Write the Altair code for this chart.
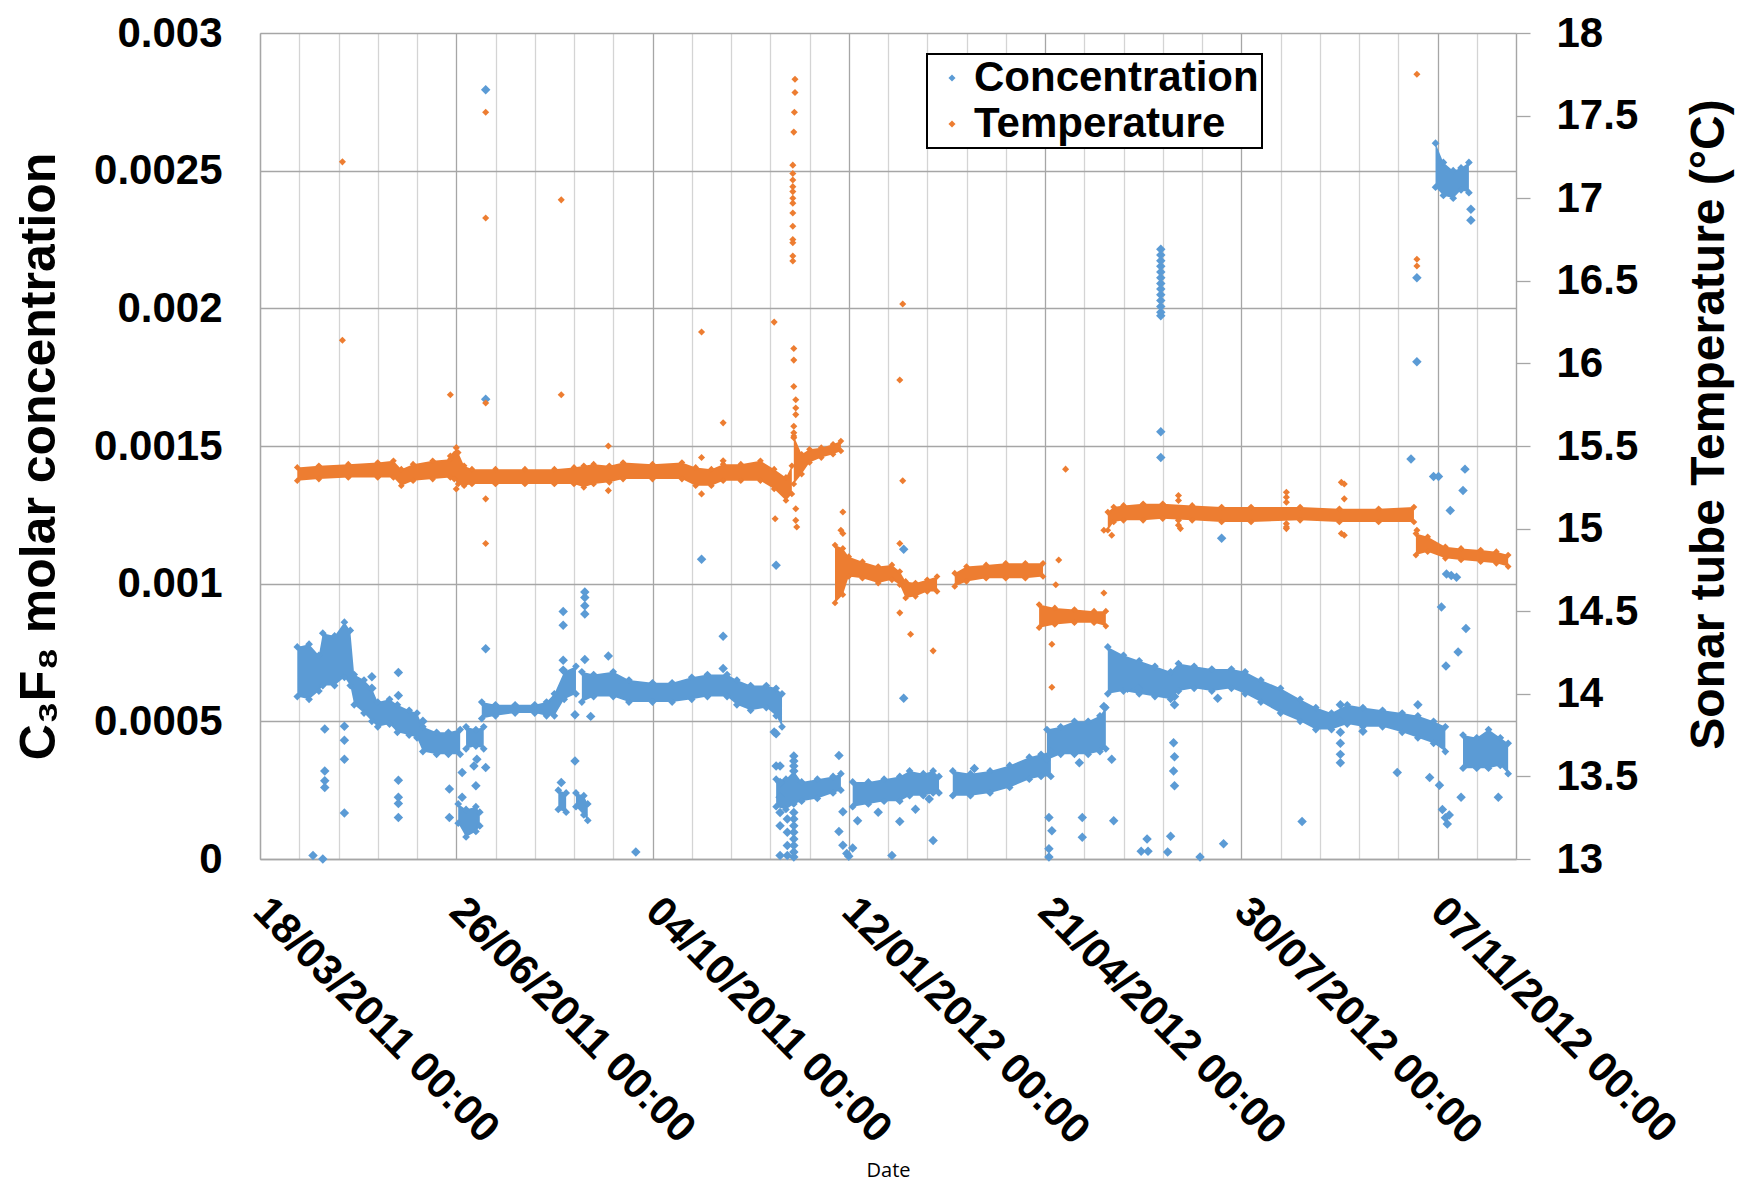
import altair as alt
import pandas as pd

START = pd.Timestamp("2011-03-18")
BLUE = "#5B9BD5"
ORANGE = "#ED7D31"
FONT = "Liberation Sans"

# ---------- Concentration dense bands: (day since 18/03/2011, low, high) in 1e-4 units
C_BAND_1 = [(19,5.9,7.7),(25,5.8,7.8),(30,6.1,7.4),(32,6.3,8.2),(38,6.3,8.1),(43,6.6,8.6),(46,6.3,8.3),
            (48,5.6,6.7),(53,5.3,6.5),(57,5.0,6.2),(60,4.8,5.7),(66,4.9,5.8),(70,4.6,5.6),(76,4.5,5.4),
            (80,4.4,5.3),(83,3.9,4.8),(90,3.8,4.6),(96,3.8,4.6),(102,3.8,4.7)]
C_BAND_2 = [(105,4.0,4.8),(110,4.1,4.7),(114,4.0,4.8)]
C_BAND_3 = [(113,5.1,5.7),(120,5.2,5.6),(130,5.3,5.6),(140,5.3,5.6),(146,5.2,5.7),(150,5.2,6.0),
            (155,5.8,6.8),(161,6.0,7.0)]
C_BAND_4 = [(164,5.7,6.8),(170,5.9,6.7),(180,5.9,6.8),(188,5.7,6.5),(200,5.7,6.4),(210,5.7,6.4),
            (220,5.8,6.6),(228,5.9,6.7),(238,5.9,6.7),(243,5.6,6.5),(250,5.4,6.3),(258,5.5,6.3),
            (263,5.2,6.2),(266,4.8,6.0)]
C_BAND_5 = [(263,1.9,2.9),(268,1.8,2.9),(272,2.0,3.2),(276,2.1,2.8),(284,2.2,2.9),(292,2.4,3.0),(296,2.5,3.1)]
C_BAND_6 = [(302,1.9,2.8),(310,2.0,2.8),(318,2.1,2.9),(326,2.1,3.0),(331,2.3,3.2),(338,2.3,3.1),
            (343,2.4,3.2),(346,2.4,3.0)]
C_BAND_7 = [(353,2.3,3.2),(362,2.3,3.1),(372,2.4,3.2),(382,2.6,3.4),(392,2.9,3.7),(398,3.0,3.8),(403,3.0,3.9)]
C_BAND_8 = [(401,3.6,4.7),(408,3.8,4.8),(415,3.8,5.0),(422,3.8,5.0),(428,3.9,5.2),(431,4.0,5.5)]
C_BAND_9 = [(432,6.0,7.7),(440,6.1,7.4),(448,6.0,7.2),(456,5.9,7.0),(464,5.8,6.8),(468,6.1,7.1),
            (476,6.2,7.0),(485,6.1,6.9),(495,6.2,6.9),(502,6.0,6.8),(510,5.7,6.5),(520,5.3,6.2),
            (530,5.0,5.8),(538,4.7,5.5),(546,4.7,5.3),(554,4.9,5.6),(562,4.8,5.5),(572,4.8,5.4),
            (582,4.6,5.3),(590,4.4,5.2),(598,4.2,5.0),(604,3.9,4.8)]
C_BAND_10 = [(613,3.3,4.5),(620,3.3,4.4),(626,3.3,4.7),(632,3.4,4.4),(636,3.1,4.2)]
C_BAND_HI = [(599,24.4,26.0),(603,24.1,25.3),(608,24.0,25.0),(612,24.3,25.1),(616,24.2,25.3)]
C_BAND_LO1 = [(101,1.3,2.0),(105,0.8,1.8),(110,1.0,1.9),(112,1.2,1.7)]
C_BAND_LO2 = [(152,1.8,2.5),(156,1.7,2.4)]
C_BAND_LO3 = [(161,1.9,2.4),(165,1.6,2.3),(167,1.4,2.0)]

C_BANDS = {"c1": C_BAND_1, "c2": C_BAND_2, "c3": C_BAND_3, "c4": C_BAND_4, "c5": C_BAND_5,
           "c6": C_BAND_6, "c7": C_BAND_7, "c8": C_BAND_8, "c9": C_BAND_9, "c10": C_BAND_10,
           "chi": C_BAND_HI, "cl1": C_BAND_LO1, "cl2": C_BAND_LO2, "cl3": C_BAND_LO3}

# ---------- Concentration isolated points (day, value in 1e-4)
C_OUT_DAY = [27,32,33,33,33,33,43,43,43,43,57,57,70.5,70.5,70.5,70.5,70.5,70.5,83,96.5,96.5,103,103,
             109,110,110.5,115,115,115,115,154.5,154.5,154.5,154.5,153.5,160.5,160.5,165.5,165.5,165.5,
             165.5,165.5,168.5,177.5,191.5,225,236,236,263,262,263,263,
             265,265,265,265,265,265,268.7,268.7,268.7,268.7,
             272,272,272,272,272,272,272,272,272,272,272,272,
             295,297,295,297,299,302,300,304.5,315,322,326,328,328,334,343,341,364,402,403.5,402,402,
             419,419,417.5,430,434,435,442,447.5,452,449,452.5,459,459,
             459,459,459,459,459,459,459,459,459,459,459,459,459,
             465.5,466,465.5,466,466,466,464,462.5,479,488,490,491,531,
             550.5,550.5,550.5,550.5,550.5,550.5,
             562,579.5,586.5,589.5,589.5,590,596,598,600.5,601,602.5,604,605,606,606.5,604.6,607,609.7,
             602,610.5,614.5,613,614,604.3,612,617,617,631]
C_OUT_VAL = [0.13,0.0,4.72,3.20,2.84,2.60,4.82,4.31,3.62,1.67,6.62,6.20,6.77,5.94,2.86,2.24,2.02,1.51,5.0,2.54,1.51,3.14,2.24,
             3.38,2.66,3.62,3.32,7.64,16.7,27.94,8.99,8.49,7.22,6.86,2.78,5.24,3.56,9.7,9.5,9.2,
             8.9,7.25,5.18,7.37,0.25,10.89,8.09,6.92,10.67,4.61,4.55,3.38,
             3.38,2.78,2.24,1.69,1.21,0.13,1.45,0.97,0.49,0.13,
             3.74,3.56,3.38,3.20,1.69,1.45,1.21,0.97,0.73,0.49,0.25,0.07,
             3.76,1.72,1.0,0.5,0.2,0.4,0.1,1.39,1.70,0.13,1.36,5.84,11.25,1.81,0.67,2.18,3.29,1.51,1.03,0.37,0.07,
             1.51,0.79,3.50,5.54,3.62,1.39,6.20,6.20,0.73,0.28,0.28,15.52,14.58,
             19.73,19.86,20.07,20.28,20.49,20.70,20.90,21.11,21.32,21.53,21.73,21.94,22.15,
             4.22,3.71,3.20,2.66,5.60,5.90,0.83,0.25,0.07,5.84,11.65,0.55,1.36,
             5.6,5.0,4.6,4.2,3.8,3.5,
             4.64,3.14,14.53,21.11,18.06,5.60,2.96,13.89,13.89,2.68,1.8,1.5,1.27,1.6,12.66,10.35,10.30,10.23,
             9.15,7.52,8.37,13.38,14.16,7.01,2.24,23.6,23.2,2.24]

# ---------- Temperature dense bands: (day, low, high) in degC
T_BAND_1 = [(19,15.29,15.37),(30,15.30,15.38),(45,15.31,15.39),(60,15.31,15.40),(68,15.31,15.41),
            (72,15.26,15.36),(78,15.29,15.39),(88,15.30,15.41),(97,15.31,15.42),(99,15.30,15.45),
            (101,15.27,15.46),(104,15.26,15.38),(108,15.27,15.36),(120,15.27,15.36),(135,15.27,15.36),
            (150,15.27,15.36),(160,15.27,15.37),(165,15.25,15.38),(170,15.27,15.39),(178,15.28,15.38),
            (185,15.30,15.40),(200,15.30,15.39),(215,15.30,15.40),(222,15.26,15.37),(230,15.26,15.36),
            (236,15.29,15.39),(245,15.29,15.39),(255,15.29,15.41),(262,15.24,15.36),(268,15.17,15.31),
            (271,15.21,15.38)]
T_BAND_2 = [(272,15.27,15.56),(276,15.33,15.45),(280,15.40,15.48),(286,15.43,15.49),(292,15.45,15.51),
            (296,15.47,15.53)]
T_BAND_3 = [(293,14.55,14.90),(297,14.60,14.88),(300,14.71,14.83),(307,14.70,14.80),(315,14.67,14.77),
            (322,14.69,14.78),(326,14.66,14.74),(329,14.58,14.68),(334,14.59,14.67),(340,14.62,14.69),
            (345,14.62,14.71)]
T_BAND_4 = [(354,14.65,14.73),(360,14.68,14.77),(370,14.70,14.78),(380,14.70,14.79),(390,14.70,14.79),
            (399,14.71,14.79)]
T_BAND_5 = [(397,14.40,14.54),(405,14.42,14.52),(415,14.43,14.51),(425,14.43,14.50),(431,14.41,14.50)]
T_BAND_6 = [(432,14.99,15.10),(435,15.04,15.13),(440,15.05,15.14),(450,15.05,15.15),(460,15.06,15.15),
            (475,15.05,15.14),(490,15.04,15.13),(505,15.04,15.13),(530,15.05,15.13),(550,15.04,15.12),
            (570,15.04,15.12),(588,15.04,15.13)]
T_BAND_7 = [(589,14.84,14.97),(595,14.86,14.95),(604,14.82,14.89),(612,14.81,14.88),(622,14.80,14.87),
            (630,14.79,14.86),(636,14.77,14.84)]

T_BANDS = {"t1": T_BAND_1, "t2": T_BAND_2, "t3": T_BAND_3, "t4": T_BAND_4, "t5": T_BAND_5,
           "t6": T_BAND_6, "t7": T_BAND_7}

# ---------- Temperature isolated points (day, degC)
T_OUT_DAY = [42,42,97,97,115,115,115,115,115,153.5,153.5,177.5,177.5,225,225,225,236,236,262,262.5,
             272.6,272.6,272.3,272,271.5,271.5,271.5,271.5,271.5,271.5,271.5,271.5,271.5,271.5,271.5,
             271.5,271.5,272,272,272,273,273,273,272,272,272,273,273,273.5,
             297,296,297,326,327.5,327.5,326,326,331.5,343,403.5,403.5,405.5,407,410.5,430,430,434,
             469,523,551,552.5,552.5,551,552.5,589.5,589.5,589.5,589.5,
             468,468,468,468,523,523,523,523,523,100,100,100]
T_OUT_VAL = [17.22,16.14,15.81,15.44,17.52,16.88,15.76,15.18,14.91,16.99,15.81,15.50,15.23,16.19,15.43,
             15.21,15.64,15.41,16.25,15.06,
             17.72,17.64,17.52,17.40,17.20,17.15,17.11,17.07,17.04,17.00,16.97,16.91,16.83,16.75,16.73,
             16.65,16.62,16.09,16.02,15.86,15.78,15.73,15.69,15.62,15.58,15.55,15.12,15.05,15.01,
             15.10,14.99,14.97,15.90,16.36,15.29,14.91,14.49,14.36,14.26,14.30,14.04,14.66,14.81,15.36,
             14.61,14.99,14.96,15.00,15.00,15.28,15.27,15.18,14.97,14.96,17.75,16.63,16.59,14.99,
             15.17,15.20,15.05,15.02,15.16,15.19,15.22,15.03,15.01,15.46,15.49,15.24]

# tick settings
X_GRID_STEP = 20
X_END_DAY = 640
C_TICKS = [0, 0.0005, 0.001, 0.0015, 0.002, 0.0025, 0.003]
T_TICKS = [13, 13.5, 14, 14.5, 15, 15.5, 16, 16.5, 17, 17.5, 18]


def to_iso(day):
    return (START + pd.to_timedelta(day, unit="D")).strftime("%Y-%m-%dT%H:%M:%SZ")


def band_frames(bands, scale):
    rows, edges = [], []
    for seg, pts in bands.items():
        for d, lo, hi in pts:
            rows.append({"seg": seg, "date": to_iso(d), "lo": lo * scale, "hi": hi * scale})
            edges.append({"date": to_iso(d), "lo": lo * scale})
            edges.append({"date": to_iso(d), "lo": hi * scale})
    return pd.DataFrame(rows), pd.DataFrame(edges)


c_band, c_edge = band_frames(C_BANDS, 1e-4)
t_band, t_edge = band_frames(T_BANDS, 1.0)
c_out = pd.DataFrame({"date": [to_iso(d) for d in C_OUT_DAY], "lo": [v * 1e-4 for v in C_OUT_VAL],
                      "series": "Concentration"})
t_out = pd.DataFrame({"date": [to_iso(d) for d in T_OUT_DAY], "lo": T_OUT_VAL, "series": "Temperature"})


def dt(day):
    t = START + pd.to_timedelta(day, unit="D")
    return alt.DateTime(year=t.year, month=t.month, date=t.day, utc=True)


x_scale = alt.Scale(type="utc", domain=[dt(0), dt(X_END_DAY)], nice=False)
BASE_MS = 1300406400000
MAJOR_TEST = f"(datum.value - {BASE_MS}) % 8640000000 == 0"

x_axis = alt.Axis(
    values=[dt(d) for d in range(0, X_END_DAY + 1, X_GRID_STEP)],
    labelExpr=f"{MAJOR_TEST} ? utcFormat(datum.value, '%d/%m/%Y %H:%M') : ''",
    labelAngle=45, labelAlign="left", labelBaseline="middle", labelPadding=45,
    labelFont=FONT, labelFontWeight="bold", labelFontSize=42, labelColor="black",
    labelOverlap=False, labelFlush=False, labelBound=False, labelLimit=600,
    ticks=False, grid=True,
    gridColor={"condition": {"test": MAJOR_TEST, "value": "#a6a6a6"}, "value": "#d4d4d4"},
    gridWidth=1.3, domainColor="#a6a6a6", domainWidth=1.3,
    title="Date", titleFont="Open Sans", titleFontWeight="normal", titleFontSize=20,
    titleColor="black", titleX=628, titleY=311, titleAlign="center", titleBaseline="middle",
)
x_enc = alt.X("date:T", scale=x_scale, axis=x_axis)

c_scale = alt.Scale(domain=[0, 0.003], nice=False, zero=False)
t_scale = alt.Scale(domain=[13, 18], nice=False, zero=False)

c_axis = alt.Axis(
    values=C_TICKS, format="~g", ticks=False, labelPadding=38,
    labelFont=FONT, labelFontWeight="bold", labelFontSize=42, labelColor="black", labelFlush=False,
    grid=True, gridColor="#a6a6a6", gridWidth=1.3, domainColor="#a6a6a6", domainWidth=1.3,
    title="C₃F₈ molar concentration", titleFont=FONT, titleFontWeight="bold", titleFontSize=50,
    titleColor="black", titleAngle=270, titleX=-221, titleY=423, titleAlign="center",
    titleBaseline="middle", titleLimit=1000,
)
t_axis = alt.Axis(
    orient="right", values=T_TICKS, format="~g", ticks=True, tickSize=14, tickColor="#a6a6a6",
    tickWidth=1.3, labelPadding=26,
    labelFont=FONT, labelFontWeight="bold", labelFontSize=42, labelColor="black", labelFlush=False,
    grid=False, domainColor="#a6a6a6", domainWidth=1.3,
    title="Sonar tube Temperature (°C)", titleFont=FONT, titleFontWeight="bold", titleFontSize=48,
    titleColor="black", titleAngle=270, titleX=193, titleY=391, titleAlign="center",
    titleBaseline="middle", titleLimit=1000,
)

color_scale = alt.Scale(domain=["Concentration", "Temperature"], range=[BLUE, ORANGE])
legend = alt.Legend(
    title=None, orient="none", legendX=667, legendY=21, symbolType="diamond", symbolSize=50,
    symbolOffset=1, labelOffset=1, padding=3, rowPadding=4, labelLimit=500,
    labelFont=FONT, labelFontWeight="bold", labelFontSize=42, labelColor="black",
    strokeColor="black", fillColor="white", symbolStrokeWidth=0,
)

cy = alt.Y("lo:Q", scale=c_scale, axis=c_axis)
ty = alt.Y("lo:Q", scale=t_scale, axis=t_axis)

conc_area = alt.Chart(c_band).mark_area(color=BLUE, opacity=1).encode(
    x=x_enc, y=cy, y2="hi:Q", detail="seg:N")
conc_edge = alt.Chart(c_edge).mark_point(shape="diamond", filled=True, size=60, opacity=1, color=BLUE).encode(
    x=x_enc, y=cy)
conc_pts = alt.Chart(c_out).mark_point(shape="diamond", filled=True, size=90, opacity=1).encode(
    x=x_enc, y=cy, color=alt.Color("series:N", scale=color_scale, legend=legend))
conc_layer = alt.layer(conc_area, conc_edge, conc_pts)

temp_area = alt.Chart(t_band).mark_area(color=ORANGE, opacity=1).encode(
    x=x_enc, y=ty, y2="hi:Q", detail="seg:N")
temp_edge = alt.Chart(t_edge).mark_point(shape="diamond", filled=True, size=45, opacity=1, color=ORANGE).encode(
    x=x_enc, y=ty)
temp_pts = alt.Chart(t_out).mark_point(shape="diamond", filled=True, size=50, opacity=1).encode(
    x=x_enc, y=ty, color=alt.Color("series:N", scale=color_scale, legend=legend))
temp_layer = alt.layer(temp_area, temp_edge, temp_pts)

chart = alt.layer(conc_layer, temp_layer).resolve_scale(y="independent").properties(
    width=1256, height=826,
    autosize=alt.AutoSizeParams(type="none"),
    padding={"left": 252, "top": 25, "right": 222, "bottom": 325},
    background="white",
).configure_view(strokeWidth=0).configure_legend(strokeWidth=2)

chart.save("out.html", embed_options={"renderer": "svg", "actions": False})
